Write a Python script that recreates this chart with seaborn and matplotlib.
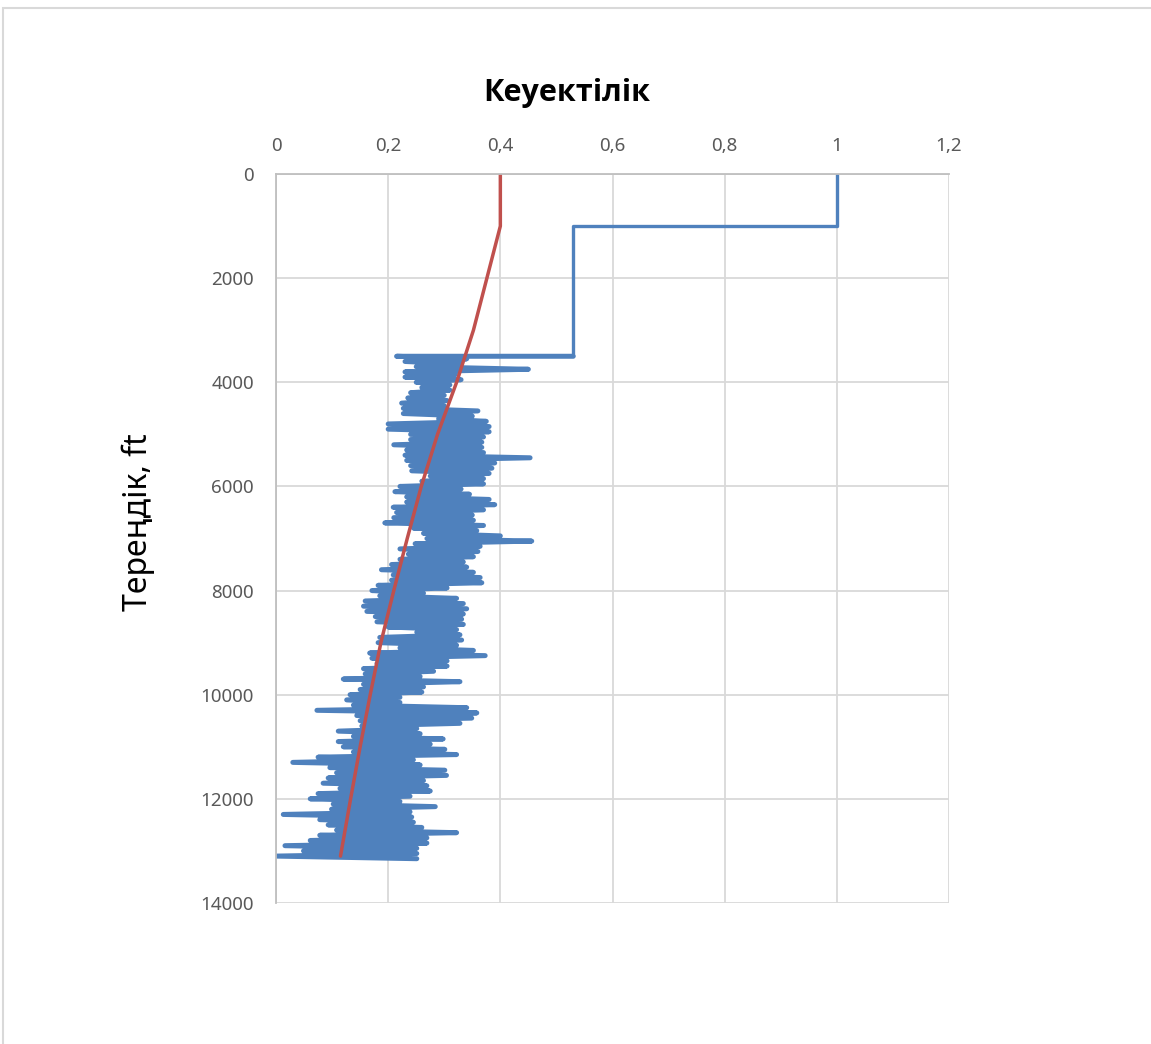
import matplotlib
matplotlib.use('Agg')
import matplotlib.pyplot as plt
import matplotlib.patches as patches
import pandas as pd
import seaborn as sns

# Porosity log (blue): upper step part
step_phi = [1.0, 1.0, 0.53, 0.53]
step_depth = [0, 1000, 1000, 3500]

# Noisy log section, read as left/right swings every 100 ft
log_depth = list(range(3500, 13101, 100))
log_left = [0.215, 0.23, 0.25, 0.23, 0.23, 0.25, 0.26, 0.24, 0.235, 0.224,
            0.227, 0.227, 0.29, 0.20, 0.20, 0.24, 0.24, 0.21, 0.233, 0.23,
            0.233, 0.24, 0.242, 0.275, 0.26, 0.221, 0.212, 0.233, 0.233, 0.209,
            0.215, 0.21, 0.194, 0.245, 0.263, 0.269, 0.248, 0.221, 0.236, 0.221,
            0.206, 0.188, 0.209, 0.206, 0.182, 0.171, 0.185, 0.159, 0.156, 0.162,
            0.177, 0.18, 0.20, 0.251, 0.185, 0.182, 0.221, 0.167, 0.171, 0.18,
            0.156, 0.159, 0.12, 0.156, 0.15, 0.132, 0.126, 0.138, 0.073, 0.144,
            0.15, 0.153, 0.111, 0.138, 0.111, 0.12, 0.138, 0.075, 0.03, 0.096,
            0.108, 0.093, 0.084, 0.114, 0.075, 0.061, 0.102, 0.099, 0.013, 0.078,
            0.093, 0.108, 0.078, 0.061, 0.016, 0.049, 0.0]
log_right = [0.34, 0.33, 0.45, 0.32, 0.33, 0.31, 0.31, 0.30, 0.305, 0.30,
             0.36, 0.35, 0.375, 0.38, 0.38, 0.37, 0.367, 0.367, 0.37, 0.453,
             0.39, 0.385, 0.38, 0.37, 0.37, 0.33, 0.345, 0.38, 0.39, 0.37,
             0.35, 0.352, 0.37, 0.358, 0.40, 0.456, 0.364, 0.36, 0.352, 0.334,
             0.34, 0.352, 0.364, 0.367, 0.305, 0.263, 0.322, 0.334, 0.34, 0.334,
             0.331, 0.334, 0.322, 0.328, 0.331, 0.322, 0.352, 0.373, 0.305, 0.305,
             0.281, 0.257, 0.328, 0.263, 0.26, 0.221, 0.221, 0.34, 0.358, 0.349,
             0.328, 0.251, 0.257, 0.298, 0.275, 0.301, 0.322, 0.245, 0.257, 0.301,
             0.304, 0.263, 0.269, 0.275, 0.239, 0.221, 0.284, 0.239, 0.242, 0.245,
             0.26, 0.322, 0.269, 0.269, 0.251, 0.251, 0.251]

# Trend line (red)
trend_depth = [0, 1000, 2000, 3000, 4000, 5000, 6000, 7000, 8000, 9000,
               10000, 11000, 12000, 13100]
trend_phi = [0.4, 0.4, 0.376, 0.352, 0.322, 0.288, 0.259, 0.234, 0.21, 0.187,
             0.168, 0.15, 0.133, 0.115]

x_ticks = [0, 0.2, 0.4, 0.6, 0.8, 1.0, 1.2]
x_labels = ['0', '0,2', '0,4', '0,6', '0,8', '1', '1,2']
y_ticks = [0, 2000, 4000, 6000, 8000, 10000, 12000, 14000]

# build blue series as tables
noisy_phi = [step_phi[-1]]
noisy_depth = [step_depth[-1]]
for d, l, r in zip(log_depth, log_left, log_right):
    noisy_phi += [l, r]
    noisy_depth += [d, d + 50]
df_step = pd.DataFrame({'phi': step_phi, 'depth': step_depth})
df_log = pd.DataFrame({'phi': noisy_phi, 'depth': noisy_depth})
df_trend = pd.DataFrame({'phi': trend_phi, 'depth': trend_depth})

sns.set_theme(style='white')
plt.rcParams['font.family'] = ['Noto Sans', 'DejaVu Sans']

fig = plt.figure(figsize=(11.51, 10.44), dpi=100)
ax = fig.add_axes([0.2398, 0.1351, 0.5847, 0.6982])

blue = '#4F81BD'
sns.lineplot(data=df_step, x='phi', y='depth', sort=False, estimator=None,
             color=blue, linewidth=2.4, ax=ax)
sns.lineplot(data=df_log, x='phi', y='depth', sort=False, estimator=None,
             color=blue, linewidth=3.6, ax=ax)
sns.lineplot(data=df_trend, x='phi', y='depth', sort=False, estimator=None,
             color='#C0504D', linewidth=2.5, ax=ax)

ax.set_xlim(0, 1.2)
ax.set_ylim(14000, 0)
ax.set_xticks(x_ticks)
ax.set_xticklabels(x_labels)
ax.set_yticks(y_ticks)
ax.xaxis.tick_top()
ax.tick_params(axis='both', length=0, labelsize=13.5, labelcolor='#595959')
ax.tick_params(axis='x', pad=14)
ax.tick_params(axis='y', pad=16)
ax.set_xlabel('')
ax.set_ylabel('')
ax.grid(True, color='#d9d9d9', linewidth=1.3)
for side in ['right', 'bottom']:
    ax.spines[side].set_visible(False)
for side in ['left', 'top']:
    ax.spines[side].set_color('#bfbfbf')
    ax.spines[side].set_linewidth(1.3)

fig.text(567 / 1151, 1 - 93 / 1044, 'Кеуектілік', ha='center', va='center',
         fontsize=22, fontweight='bold', color='black',
         family=['Open Sans', 'DejaVu Sans'])
fig.text(138 / 1151, 1 - 522 / 1044, 'Тереңдік, ft', ha='center', va='center',
         rotation=90, fontsize=23, color='black')

# chart area border (cropped)
fig.add_artist(patches.Rectangle((3 / 1151, -0.05), 1.2, 1 - 8 / 1044 + 0.05,
                                 transform=fig.transFigure, fill=False,
                                 edgecolor='#d9d9d9', linewidth=1.5))

fig.savefig('out.png', dpi=100)
